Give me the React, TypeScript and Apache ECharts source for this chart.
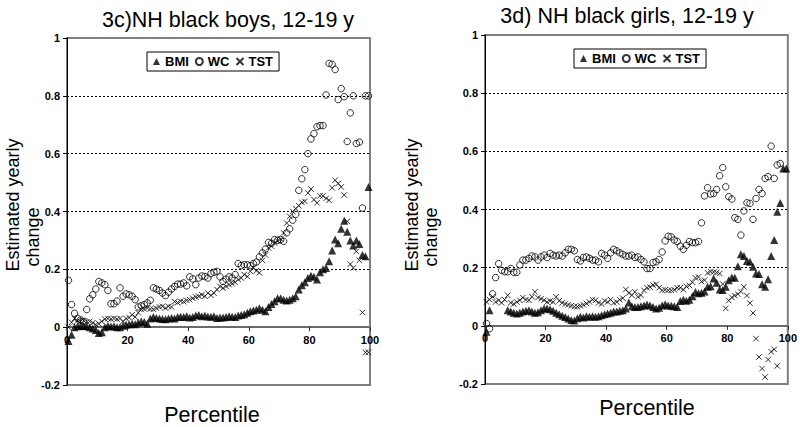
import React, { useEffect, useRef } from "react";
import * as echarts from "echarts";

const PERCENTILES = [
  0.5, 1.5, 2.5, 3.5, 4.5, 5.5, 6.5, 7.5, 8.5, 9.5,
  10.5, 11.5, 12.5, 13.5, 14.5, 15.5, 16.5, 17.5, 18.5, 19.5,
  20.5, 21.5, 22.5, 23.5, 24.5, 25.5, 26.5, 27.5, 28.5, 29.5,
  30.5, 31.5, 32.5, 33.5, 34.5, 35.5, 36.5, 37.5, 38.5, 39.5,
  40.5, 41.5, 42.5, 43.5, 44.5, 45.5, 46.5, 47.5, 48.5, 49.5,
  50.5, 51.5, 52.5, 53.5, 54.5, 55.5, 56.5, 57.5, 58.5, 59.5,
  60.5, 61.5, 62.5, 63.5, 64.5, 65.5, 66.5, 67.5, 68.5, 69.5,
  70.5, 71.5, 72.5, 73.5, 74.5, 75.5, 76.5, 77.5, 78.5, 79.5,
  80.5, 81.5, 82.5, 83.5, 84.5, 85.5, 86.5, 87.5, 88.5, 89.5,
  90.5, 91.5, 92.5, 93.5, 94.5, 95.5, 96.5, 97.5, 98.5, 99.5,
];

// 3c) NH black boys
const BOYS_BMI = [
  -0.048, -0.026, 0.0, 0.003, 0.004, 0.004, 0.003, 0.0, -0.005, -0.01,
  -0.02, -0.018, 0.0, 0.005, 0.002, 0.003, 0.0, 0.0, 0.005, 0.008,
  0.01, 0.012, 0.01, 0.015, 0.02, 0.018, 0.012, 0.03, 0.035, 0.032,
  0.03, 0.028, 0.027, 0.03, 0.032, 0.03, 0.035, 0.036, 0.035, 0.038,
  0.033, 0.035, 0.04, 0.042, 0.038, 0.04, 0.037, 0.036, 0.038, 0.032,
  0.033, 0.033, 0.035, 0.038, 0.036, 0.035, 0.04, 0.042, 0.045, 0.05,
  0.055, 0.058, 0.06, 0.065, 0.06, 0.055, 0.07, 0.08, 0.09, 0.1,
  0.1, 0.095, 0.092, 0.095, 0.1, 0.107, 0.13, 0.145, 0.155, 0.17,
  0.178, 0.174, 0.165, 0.19, 0.2, 0.205, 0.228, 0.265, 0.303, 0.29,
  0.34, 0.368, 0.33, 0.3, 0.282, 0.3, 0.288, 0.25, 0.245, 0.485,
];
const BOYS_WC = [
  0.162, 0.078, 0.048, 0.03, 0.025, 0.02, 0.061, 0.098, 0.112, 0.132,
  0.158, 0.153, 0.147, 0.127, 0.081, 0.081, 0.09, 0.136, 0.107, 0.115,
  0.112, 0.107, 0.095, 0.07, 0.074, 0.078, 0.084, 0.093, 0.136, 0.132,
  0.127, 0.118, 0.109, 0.121, 0.132, 0.141, 0.149, 0.149, 0.153, 0.143,
  0.174, 0.167, 0.147, 0.17, 0.177, 0.175, 0.17, 0.185, 0.19, 0.193,
  0.174, 0.158, 0.166, 0.174, 0.17, 0.182, 0.22, 0.213, 0.216, 0.216,
  0.213, 0.22, 0.225, 0.243, 0.257, 0.27, 0.293, 0.29, 0.303, 0.3,
  0.303, 0.297, 0.326, 0.34, 0.37, 0.39, 0.473, 0.513, 0.545, 0.6,
  0.651, 0.669, 0.693, 0.697, 0.697, 0.803, 0.912, 0.909, 0.891, 0.787,
  0.825, 0.797, 0.642, 0.741, 0.8, 0.635, 0.64, 0.412, 0.8, 0.8,
];
const BOYS_TST = [
  0.0, 0.017, 0.03, 0.022, 0.02, 0.022, 0.018, 0.02, 0.015, 0.009,
  0.012, 0.02, 0.028, 0.03, 0.028, 0.03, 0.028, 0.03, 0.02, 0.03,
  0.033, 0.043, 0.035, 0.05, 0.061, 0.063, 0.066, 0.063, 0.062, 0.066,
  0.07, 0.072, 0.066, 0.072, 0.07, 0.088, 0.085, 0.09, 0.088, 0.093,
  0.095, 0.1, 0.104, 0.107, 0.112, 0.107, 0.118, 0.11, 0.118, 0.13,
  0.141, 0.135, 0.141, 0.147, 0.15, 0.155, 0.165, 0.17, 0.182, 0.175,
  0.193, 0.205, 0.195, 0.188, 0.231, 0.25, 0.274, 0.28, 0.291, 0.298,
  0.305, 0.326, 0.36, 0.383, 0.4, 0.41, 0.42, 0.432, 0.435, 0.464,
  0.478, 0.441, 0.43, 0.454, 0.454, 0.445, 0.439, 0.482, 0.508, 0.497,
  0.485, 0.457, 0.366, 0.218, 0.205, 0.262, 0.231, 0.051, -0.087, -0.087,
];

// 3d) NH black girls
const GIRLS_BMI = [
  -0.02, 0.054, null, null, null, null, null, 0.054, 0.049, 0.045,
  0.042, 0.045, 0.049, 0.052, 0.054, 0.049, 0.045, 0.047, 0.054, 0.06,
  0.06, 0.057, 0.052, 0.045, 0.04, 0.035, 0.03, 0.025, 0.02, 0.018,
  0.026, 0.031, 0.029, 0.033, 0.031, 0.033, 0.031, 0.033, 0.036, 0.04,
  0.042, 0.045, 0.049, 0.049, 0.052, 0.054, 0.06, 0.08, 0.067, 0.065,
  0.065, 0.067, 0.07, 0.073, 0.07, 0.065, 0.06, 0.062, 0.07, 0.074,
  0.07, 0.069, 0.067, 0.065, 0.085, 0.09, 0.086, 0.09, 0.102, 0.116,
  0.112, 0.114, 0.118, 0.134, 0.136, 0.163, 0.148, 0.125, 0.123, 0.134,
  0.157, 0.166, 0.165, 0.205, 0.246, 0.24, 0.223, 0.22, 0.203, 0.18,
  0.178, 0.143, 0.134, 0.16, 0.24, 0.295, 0.392, 0.422, 0.541, 0.541,
];
const GIRLS_WC = [
  0.008, -0.01, 0.11, 0.166, 0.214, 0.191, 0.186, 0.186, 0.197, 0.184,
  0.184, 0.209, 0.226, 0.226, 0.232, 0.24, 0.237, 0.226, 0.237, 0.243,
  0.235, 0.249, 0.243, 0.24, 0.243, 0.24, 0.251, 0.263, 0.263, 0.258,
  0.228, 0.223, 0.235, 0.237, 0.232, 0.226, 0.226, 0.22, 0.249, 0.243,
  0.232, 0.251, 0.263, 0.258, 0.251, 0.246, 0.24, 0.24, 0.243, 0.235,
  0.237, 0.228, 0.22, 0.197, 0.197, 0.218, 0.22, 0.228, 0.254, 0.292,
  0.308, 0.306, 0.295, 0.29, 0.274, 0.263, 0.277, 0.29, 0.286, 0.286,
  0.29, 0.354, 0.447, 0.475, 0.453, 0.455, 0.469, 0.516, 0.544, 0.478,
  0.444, 0.436, 0.372, 0.366, 0.312, 0.395, 0.423, 0.421, 0.366, 0.438,
  0.469, 0.455, 0.507, 0.513, 0.618, 0.507, 0.553, 0.558, null, null,
];
const GIRLS_TST = [
  0.082, 0.09, 0.1, 0.082, 0.088, 0.079, 0.09, 0.105, 0.079, 0.075,
  0.082, 0.088, 0.097, 0.09, 0.088, 0.1, 0.117, 0.097, 0.093, 0.088,
  0.082, 0.086, 0.082, 0.1, 0.086, 0.079, 0.075, 0.072, 0.069, 0.066,
  0.066, 0.069, 0.072, 0.077, 0.082, 0.09, 0.088, 0.079, 0.075, 0.086,
  0.082, 0.09, 0.079, 0.082, 0.09, 0.095, 0.125, 0.113, 0.105, 0.117,
  0.1, 0.105, 0.122, 0.131, 0.133, 0.14, 0.143, 0.131, 0.122, 0.124,
  0.122, 0.122, 0.124, 0.131, 0.131, 0.124, 0.136, 0.139, 0.15, 0.165,
  0.168, 0.152, 0.157, 0.182, 0.186, 0.185, 0.183, 0.18, 0.144, 0.06,
  0.087, 0.098, 0.104, 0.109, 0.118, 0.134, 0.104, 0.078, 0.044, -0.044,
  -0.107, -0.147, -0.176, -0.116, -0.089, -0.081, -0.138, null, null, null,
];

const LEGEND_NAMES = ["BMI", "WC", "TST"];
const TITLES = ["3c)NH black boys, 12-19 y", "3d) NH black girls, 12-19 y"];
const X_TITLE = "Percentile";
const Y_TITLE_LINES = ["Estimated yearly", "change"];
const Y_MIN = -0.2;
const Y_MAX = 1;
const Y_STEP = 0.2;
const X_MIN = 0;
const X_MAX = 100;
const X_STEP = 20;

const FONT = "'Liberation Sans', Arial, Helvetica, sans-serif";
const X_MARK = "path://M0,0L10,10M10,0L0,10";

const GRIDS = [
  { left: 67, top: 38, width: 303, height: 347 },
  { left: 485, top: 35, width: 304, height: 349 },
];

function points(vals: (number | null)[]) {
  const out: number[][] = [];
  PERCENTILES.forEach((p, i) => {
    const v = vals[i];
    if (v !== null && v !== undefined) out.push([p, v]);
  });
  return out;
}

function makeX(gridIndex: number) {
  const h = GRIDS[gridIndex].height;
  // move the axis (line, ticks, labels) up to y = 0
  const offset = -h * ((0 - Y_MIN) / (Y_MAX - Y_MIN));
  return {
    type: "value",
    gridIndex,
    min: X_MIN,
    max: X_MAX,
    interval: X_STEP,
    position: "bottom",
    offset,
    axisLine: { show: true, onZero: false, lineStyle: { color: "#6a6a6a", width: 2 } },
    axisTick: { show: true, length: 4, lineStyle: { color: "#333" } },
    axisLabel: {
      color: "#000",
      fontFamily: FONT,
      fontWeight: "bold",
      fontSize: 11,
      margin: 7,
    },
    splitLine: { show: false },
  };
}

function makeY(gridIndex: number) {
  return {
    type: "value",
    gridIndex,
    min: Y_MIN,
    max: Y_MAX,
    interval: Y_STEP,
    axisLine: { show: true, onZero: false, lineStyle: { color: "#000", width: 1 } },
    axisTick: { show: true, length: 4, lineStyle: { color: "#000" } },
    axisLabel: {
      color: "#000",
      fontFamily: FONT,
      fontWeight: "bold",
      fontSize: 11,
      margin: 7,
      formatter: (v: number) => String(Math.round(v * 10) / 10),
    },
    splitLine: {
      show: true,
      showMinLine: false,
      showMaxLine: false,
      lineStyle: { color: "#000", width: 1, type: [2, 2] },
    },
  };
}

function makeSeries(idx: number, bmi: (number | null)[], wc: (number | null)[], tst: (number | null)[]) {
  return [
    {
      type: "scatter",
      name: "WC",
      xAxisIndex: idx,
      yAxisIndex: idx,
      symbol: "circle",
      symbolSize: 6.5,
      itemStyle: { color: "rgba(0,0,0,0)", borderColor: "#000", borderWidth: 1 },
      data: points(wc),
    },
    {
      type: "scatter",
      name: "TST",
      xAxisIndex: idx,
      yAxisIndex: idx,
      symbol: X_MARK,
      symbolSize: 5.5,
      itemStyle: { color: "rgba(0,0,0,0)", borderColor: "#000", borderWidth: 1 },
      data: points(tst),
    },
    {
      type: "scatter",
      name: "BMI",
      xAxisIndex: idx,
      yAxisIndex: idx,
      symbol: "triangle",
      symbolSize: 8,
      itemStyle: { color: "#000" },
      data: points(bmi),
    },
  ];
}

function makeLegend(left: number, top: number) {
  return {
    data: LEGEND_NAMES,
    left,
    top,
    orient: "horizontal",
    itemWidth: 7,
    itemHeight: 7,
    itemGap: 6,
    padding: [3, 6, 3, 6],
    borderColor: "#000",
    borderWidth: 1,
    backgroundColor: "#fff",
    selectedMode: false,
    textStyle: { color: "#000", fontFamily: FONT, fontWeight: "bold", fontSize: 13 },
  };
}

function txt(text: string, x: number, y: number, size: number, rotate = 0) {
  return {
    type: "text",
    x,
    y,
    rotation: rotate,
    style: {
      text,
      fill: "#000",
      font: `${size}px ${FONT}`,
      textAlign: "center",
      textVerticalAlign: "middle",
    },
  };
}

export default function App() {
  const ref = useRef<HTMLDivElement>(null);
  useEffect(() => {
    if (!ref.current) return;
    const chart = echarts.init(ref.current, undefined, { renderer: "svg" });
    const option = {
      animation: false,
      backgroundColor: "#fff",
      grid: GRIDS.map((g) => ({
        ...g,
        show: true,
        borderColor: "#808080",
        borderWidth: 2,
        backgroundColor: "transparent",
      })),
      xAxis: [makeX(0), makeX(1)],
      yAxis: [makeY(0), makeY(1)],
      legend: [makeLegend(147, 52), makeLegend(574, 49)],
      series: [
        ...makeSeries(0, BOYS_BMI, BOYS_WC, BOYS_TST),
        ...makeSeries(1, GIRLS_BMI, GIRLS_WC, GIRLS_TST),
      ],
      graphic: [
        txt(TITLES[0], 228, 20, 21.5),
        txt(TITLES[1], 627, 16, 21.5),
        txt(X_TITLE, 212, 415, 21.5),
        txt(X_TITLE, 647, 408, 21.5),
        txt(Y_TITLE_LINES[0], 13, 205, 18, Math.PI / 2),
        txt(Y_TITLE_LINES[1], 33, 237, 18, Math.PI / 2),
        txt(Y_TITLE_LINES[0], 412, 205, 18, Math.PI / 2),
        txt(Y_TITLE_LINES[1], 431, 237, 18, Math.PI / 2),
      ],
    };
    chart.setOption(option as any);
    return () => chart.dispose();
  }, []);
  return (
    <div
      ref={ref}
      style={{ position: "fixed", left: 0, top: 0, width: 800, height: 427 }}
    />
  );
}
